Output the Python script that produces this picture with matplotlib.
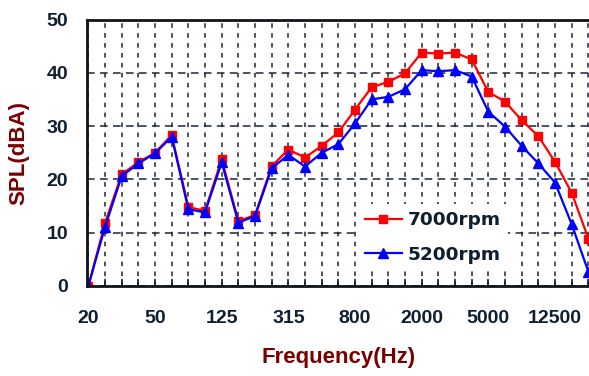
import numpy as np
import matplotlib
matplotlib.use('Agg')
import matplotlib.pyplot as plt

plt.rcParams['font.family'] = ['Liberation Sans', 'DejaVu Sans']

# third-octave bands (Hz)
bandas = ['20', '25', '31.5', '40', '50', '63', '80', '100', '125', '160',
          '200', '250', '315', '400', '500', '630', '800', '1000', '1250', '1600',
          '2000', '2500', '3150', '4000', '5000', '6300', '8000', '10000', '12500',
          '16000', '20000']
rotulos = ['20', '50', '125', '315', '800', '2000', '5000', '12500']

spl_7000 = [0, 11.8, 21.0, 23.2, 25.0, 28.3, 14.8, 14.1, 23.8, 12.2,
            13.3, 22.5, 25.6, 24.1, 26.3, 28.8, 33.1, 37.3, 38.3, 39.9,
            43.8, 43.6, 43.8, 42.5, 36.4, 34.6, 31.1, 28.1, 23.3, 17.5, 8.9]
spl_5200 = [0, 11.1, 20.6, 23.0, 24.9, 28.0, 14.4, 13.8, 23.2, 11.9,
            13.1, 22.1, 24.6, 22.4, 25.0, 26.6, 30.5, 35.0, 35.5, 36.9,
            40.5, 40.3, 40.5, 39.3, 32.7, 29.9, 26.3, 23.0, 19.4, 11.6, 2.7]

cor_texto = '#0f1e30'
cor_titulo = '#7a0000'
cor_grade = '#1a2636'

fig = plt.figure(figsize=(5.89, 3.76), dpi=100)
ax = fig.add_axes([0.1472, 0.2394, 0.8545, 0.7087])

x = np.arange(len(bandas))
ax.plot(x, spl_7000, '-s', color='#ff0000', lw=1.6, ms=5.8, label='7000rpm')
ax.plot(x, spl_5200, '-^', color='#0000ff', lw=1.6, ms=6.8, label='5200rpm')

ax.set_xlim(-0.1, 30.1)
ax.set_ylim(0, 50)

# ticks em todas as bandas, rotulo a cada 4
ax.set_xticks(x)
ax.set_xticklabels([b if b in rotulos else '' for b in bandas])
ax.set_yticks([0, 10, 20, 30, 40, 50])

ax.tick_params(axis='x', direction='in', length=5, width=1.2, color=cor_texto,
               labelsize=14, labelcolor=cor_texto, pad=17)
ax.tick_params(axis='y', direction='in', length=0, labelsize=14,
               labelcolor=cor_texto, pad=13.5)
for lab in ax.get_xticklabels() + ax.get_yticklabels():
    lab.set_fontweight('bold')

ax.grid(axis='x', linestyle=(0, (3, 3.5)), color=cor_grade, lw=1.1)
ax.grid(axis='y', linestyle=(0, (5, 3.5)), color=cor_grade, lw=1.1)

for s in ax.spines.values():
    s.set_linewidth(2)
    s.set_color('#101418')

ax.set_xlabel('Frequency(Hz)', fontsize=16, fontweight='bold', color=cor_titulo, labelpad=15)
ax.set_ylabel('SPL(dBA)', fontsize=16, fontweight='bold', color=cor_titulo, labelpad=12)

leg = ax.legend(loc='center', bbox_to_anchor=(0.735, 0.368), bbox_transform=fig.transFigure,
                prop={'family': 'DejaVu Sans', 'weight': 'bold', 'size': 13.3},
                frameon=True, facecolor='white', edgecolor='none',
                framealpha=1, handlelength=2.0, handletextpad=0.32, labelspacing=0.9,
                borderpad=0.4)
for t in leg.get_texts():
    t.set_color(cor_texto)

fig.savefig('out.png', dpi=100)
